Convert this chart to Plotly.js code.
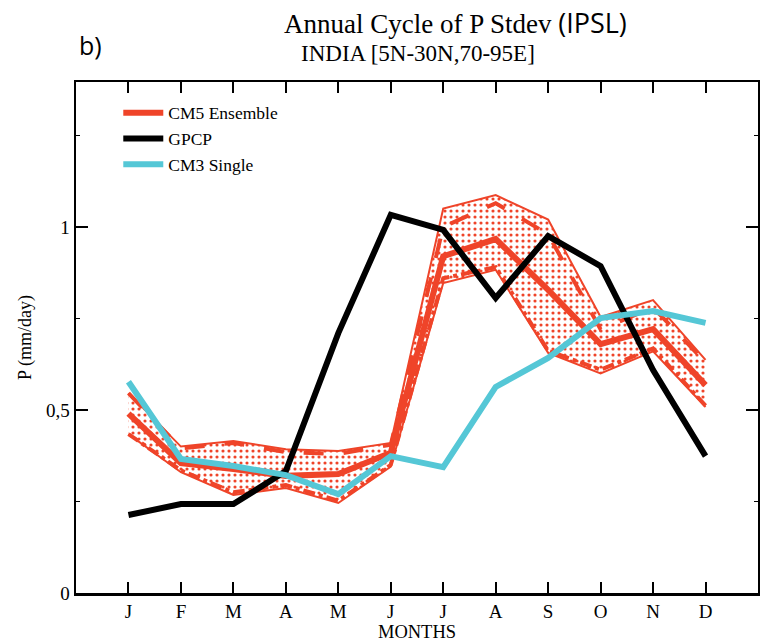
<!DOCTYPE html>
<html>
<head>
<meta charset="utf-8">
<script src="https://cdn.plot.ly/plotly-3.0.1.min.js"></script>
<style>html,body{margin:0;padding:0;background:#fff;}#chart{width:760px;height:644px;}</style>
</head>
<body>
<div id="chart"></div>
<script>
// Data
const monthPos = [1,2,3,4,5,6,7,8,9,10,11,12];
const monthLabels = ['J','F','M','A','M','J','J','A','S','O','N','D'];
const gpcp   = [0.213,0.243,0.243,0.333,0.710,1.033,0.992,0.806,0.975,0.893,0.609,0.374];
const cm3    = [0.577,0.366,0.347,0.322,0.270,0.374,0.344,0.563,0.642,0.751,0.770,0.738];
const cm5Mean= [0.490,0.355,0.339,0.320,0.325,0.383,0.920,0.967,0.828,0.680,0.721,0.568];
const cm5Max = [0.546,0.400,0.415,0.393,0.388,0.410,1.050,1.087,1.020,0.754,0.800,0.637];
const cm5Min = [0.434,0.330,0.268,0.287,0.246,0.345,0.847,0.883,0.656,0.600,0.660,0.508];
const cm5MemberA = [0.546,0.395,0.410,0.385,0.380,0.405,1.000,1.065,0.980,0.720,0.780,0.630];
const cm5MemberB = [0.434,0.335,0.275,0.295,0.252,0.350,0.860,0.890,0.662,0.610,0.668,0.512];
const yTickVals = [0,0.5,1];
const yTickText = ['0','0,5','1'];

const RED = '#EF4429', CYAN = '#55C7D6';
const serif = 'Liberation Serif, Times New Roman, serif';
const sans = 'Open Sans, Noto Sans, sans-serif';

const traces = [
  {x: monthPos, y: cm5Min, mode:'lines', line:{color:RED, width:2}, showlegend:false, hoverinfo:'skip'},
  {x: monthPos, y: cm5Max, mode:'lines', line:{color:RED, width:2}, fill:'tonexty',
   fillcolor:'rgba(255,255,255,0)',
   fillpattern:{shape:'.', fgcolor:RED, bgcolor:'white', size:6, solidity:0.22},
   showlegend:false, hoverinfo:'skip'},
  {x: monthPos, y: cm5MemberA, mode:'lines', line:{color:RED, width:4, dash:'longdash'}, showlegend:false},
  {x: monthPos, y: cm5MemberB, mode:'lines', line:{color:RED, width:4, dash:'dashdot'}, showlegend:false},
  {x: monthPos, y: cm5Mean, mode:'lines', name:'CM5 Ensemble', line:{color:RED, width:6}},
  {x: monthPos, y: gpcp, mode:'lines', name:'GPCP', line:{color:'#000', width:6}},
  {x: monthPos, y: cm3, mode:'lines', name:'CM3 Single', line:{color:CYAN, width:6}}
];

const layout = {
  width:760, height:644,
  margin:{l:76, r:2, t:82, b:51},
  paper_bgcolor:'#fff', plot_bgcolor:'#fff',
  showlegend:true,
  legend:{x:0.062, y:0.975, xanchor:'left', yanchor:'top', bgcolor:'rgba(0,0,0,0)', traceorder:'normal',
          font:{family:serif, size:17.5, color:'#000'}, tracegroupgap:0, itemwidth:40},
  xaxis:{range:[0,13], tickvals:monthPos, ticktext:monthLabels, ticks:'inside', ticklen:11, tickwidth:2,
         tickcolor:'#000', showline:true, linewidth:2.5, linecolor:'#000', mirror:'ticks',
         showgrid:false, zeroline:false, tickfont:{family:serif, size:19, color:'#000'},
         title:{text:'MONTHS', font:{family:serif, size:18.5, color:'#000'}, standoff:4}},
  yaxis:{range:[0,1.396], tickvals:yTickVals, ticktext:yTickText, ticks:'inside', ticklen:12, tickwidth:2,
         tickcolor:'#000', showline:true, linewidth:2.5, linecolor:'#000', mirror:'ticks',
         showgrid:false, zeroline:false, tickfont:{family:serif, size:19, color:'#000'},
         minor:{dtick:0.25, ticks:'inside', ticklen:4, tickwidth:1.5, tickcolor:'#000'},
         title:{text:'P (mm/day)', font:{family:serif, size:18, color:'#000'}, standoff:10}},
  annotations:[
    {text:'Annual Cycle of P Stdev <span style="font-family:Open Sans, Noto Sans, sans-serif">(IPSL)</span>',
     xref:'paper', yref:'paper', x:(456-76)/682, y:1+(82-22)/511, xanchor:'center', yanchor:'middle',
     showarrow:false, font:{family:serif, size:27, color:'#000'}},
    {text:'INDIA [5N-30N,70-95E]', xref:'paper', yref:'paper', x:(418-76)/682, y:1+(82-53)/511,
     xanchor:'center', yanchor:'middle', showarrow:false, font:{family:serif, size:23, color:'#000'}},
    {text:'b)', xref:'paper', yref:'paper', x:(77-76)/682, y:1+(82-45)/511, xanchor:'left', yanchor:'middle',
     showarrow:false, font:{family:sans, size:25, color:'#000'}}
  ]
};

Plotly.newPlot('chart', traces, layout, {staticPlot:true, displayModeBar:false});
</script>
</body>
</html>
